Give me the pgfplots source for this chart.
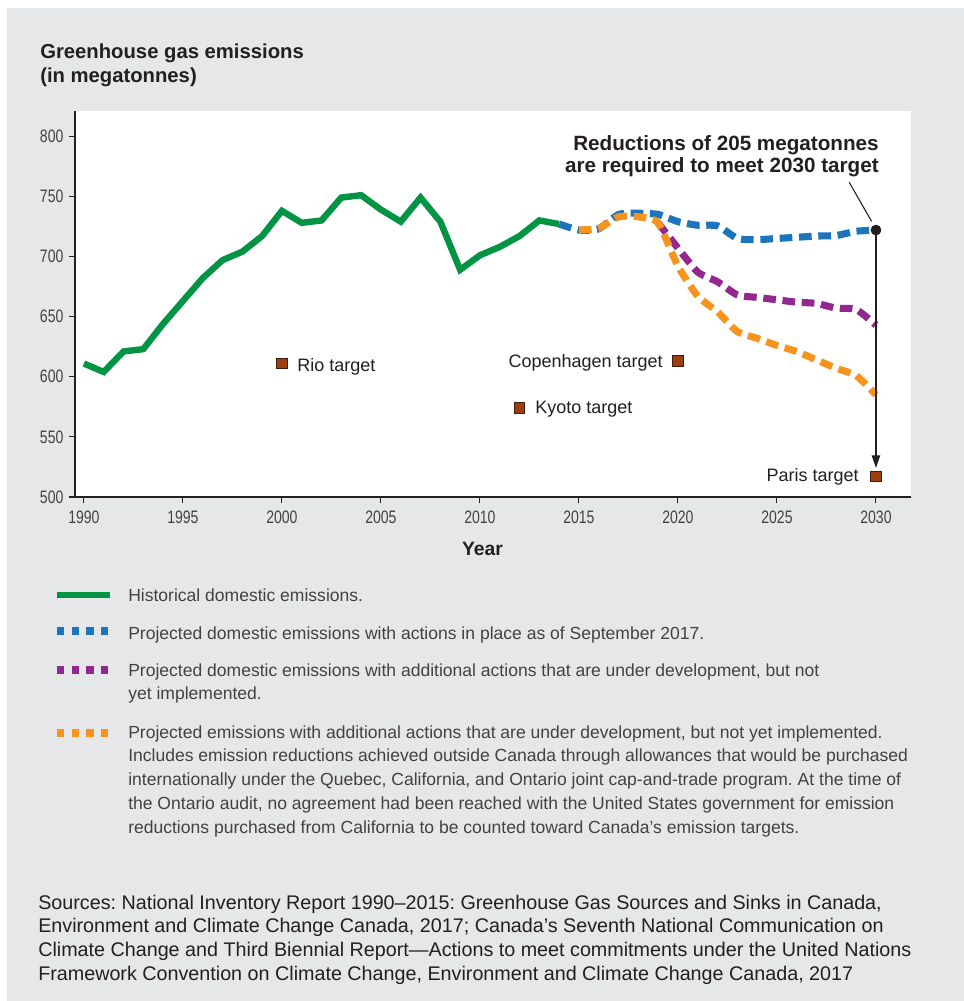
\documentclass[border=0pt]{standalone}
\usepackage{pgfplots}
\pgfplotsset{compat=1.18}
\usepackage{fontspec}
\setmainfont{Liberation Sans}
\newfontfamily\condfont[FakeStretch=0.78]{Liberation Sans}
\usetikzlibrary{arrows.meta}
\definecolor{bg}{HTML}{E6E7E8}
\definecolor{txt}{HTML}{231F20}
\definecolor{ggreen}{HTML}{009444}
\definecolor{gblue}{HTML}{1C75BC}
\definecolor{gpurple}{HTML}{92278F}
\definecolor{gorange}{HTML}{F7941D}
\definecolor{tfill}{HTML}{9E3E0C}
\definecolor{tdraw}{HTML}{3A1C10}
\frenchspacing
\begin{document}
\begin{tikzpicture}
\begin{scope}[x=0.75pt,y=-0.75pt]
\path[use as bounding box] (0,0) rectangle (964,1001);
\fill[white] (0,0) rectangle (964,1001);
\fill[bg] (7,8) rectangle (964,1001);
% title
\node[anchor=base west, inner sep=0pt, text=txt, font=\bfseries\fontsize{15.2}{17}\selectfont] at (40,58) {Greenhouse gas emissions};
\node[anchor=base west, inner sep=0pt, text=txt, font=\bfseries\fontsize{15.2}{17}\selectfont] at (40,82) {(in megatonnes)};
% x label
\node[anchor=base, inner sep=0pt, text=txt, font=\bfseries\fontsize{14.5}{17}\selectfont] at (482.5,555) {Year};
% legend samples
\draw[ggreen, line width=5.2pt] (57,595) -- (110,595);
\draw[gblue, line width=5.5pt, dash pattern=on 5.5pt off 5.5pt] (57,631) -- (110,631);
\draw[gpurple, line width=5.5pt, dash pattern=on 5.5pt off 5.5pt] (57,670) -- (110,670);
\draw[gorange, line width=5.5pt, dash pattern=on 5.5pt off 5.5pt] (57,733) -- (110,733);
% legend text
\begin{scope}[every node/.style={anchor=base west, inner sep=0pt, text=txt!85, font=\fontsize{13.15}{15}\selectfont}]
\node at (128,601) {Historical domestic emissions.};
\node at (128,639) {Projected domestic emissions with actions in place as of September 2017.};
\node at (128,676.5) {Projected domestic emissions with additional actions that are under development, but not};
\node at (128,699.5) {yet implemented.};
\node at (128,738) {Projected emissions with additional actions that are under development, but not yet implemented.};
\node at (128,761.5) {Includes emission reductions achieved outside Canada through allowances that would be purchased};
\node at (128,785) {internationally under the Quebec, California, and Ontario joint cap-and-trade program. At the time of};
\node at (128,809) {the Ontario audit, no agreement had been reached with the United States government for emission};
\node at (128,833) {reductions purchased from California to be counted toward Canada's emission targets.};
\end{scope}
% sources
\begin{scope}[every node/.style={anchor=base west, inner sep=0pt, text=txt, font=\fontsize{14.8}{17}\selectfont}]
\node at (38,909) {Sources: National Inventory Report 1990--2015: Greenhouse Gas Sources and Sinks in Canada,};
\node at (38,932.5) {Environment and Climate Change Canada, 2017; Canada's Seventh National Communication on};
\node at (38,956) {Climate Change and Third Biennial Report---Actions to meet commitments under the United Nations};
\node at (38,980) {Framework Convention on Climate Change, Environment and Climate Change Canada, 2017};
\end{scope}
\end{scope}
\begin{axis}[
  at={(56.25pt,-372.75pt)}, anchor=south west,
  scale only axis, width=627pt, height=289.5pt,
  xmin=1989.55, xmax=2031.77, ymin=500, ymax=821,
  axis x line*=bottom, axis y line*=left,
  axis line style={line width=1.1pt, txt},
  axis background/.style={fill=white},
  xtick={1990,1995,...,2030}, ytick={500,550,...,800},
  tick align=outside, major tick length=4.5pt,
  tick style={line width=0.8pt, txt},
  /pgf/number format/assume math mode=true,
  /pgf/number format/1000 sep={},
  ticklabel style={font=\condfont\fontsize{13.5}{15}\selectfont, text=txt!85},
  xticklabel style={inner sep=0pt, yshift=-6pt},
  yticklabel style={inner sep=0pt, xshift=-4pt},
  clip=false,
]
\addplot[gblue, line width=5.3pt, dash pattern=on 9.5pt off 5pt, smooth, tension=0.35] coordinates {
(2014,727)(2015,722)(2016,723)(2017,735)(2018,736)(2019,735)(2020,729)(2021,726)(2022,725.5)(2023,715)(2024,714)(2025,715)(2026,716)(2027,717)(2028,717.5)(2029,721)(2030,722)};
\addplot[gpurple, line width=5.3pt, dash pattern=on 9.5pt off 5pt, smooth, tension=0.35] coordinates {
(2019,728)(2020,707)(2021,687)(2022,679)(2023,668)(2024,666)(2025,664)(2026,662)(2027,661)(2028,657)(2029,656)(2030,643)};
\addplot[gorange, line width=5.3pt, dash pattern=on 9.5pt off 5pt, smooth, tension=0.35] coordinates {
(2015,722)(2016,723.5)(2017,733)(2018,733)(2019,728)(2020,692)(2021,667)(2022,654)(2023,637.5)(2024,632)(2025,626)(2026,621)(2027,614)(2028,607)(2029,601)(2030,585)};
\addplot[ggreen, line width=4.8pt, line join=miter, miter limit=3] coordinates {
(1990,611)(1991,604)(1992,621)(1993,623)(1994,644)(1995,663)(1996,682)(1997,697)(1998,704)(1999,717)(2000,738)(2001,728)(2002,730)(2003,749)(2004,751)(2005,739)(2006,729)(2007,749)(2008,729)(2009,689)(2010,701)(2011,708)(2012,717)(2013,730)(2014,727)};
\draw[txt, line width=1.6pt, -{Triangle[length=9.5pt,width=6pt]}] (axis cs:2030,722) -- (axis cs:2030,524);
\draw[txt, line width=0.8pt] (axis cs:2028.65,761.7) -- (axis cs:2029.78,729.2);
\addplot[only marks, mark=*, mark size=3.8pt, txt] coordinates {(2030,722)};
\addplot[only marks, mark=square*, mark size=4pt, mark options={fill=tfill, draw=tdraw, line width=0.8pt}] coordinates {(2000,611)(2012,574)(2020,613)(2030,517)};
\end{axis}
\begin{scope}[x=0.75pt,y=-0.75pt]
% annotation
\node[anchor=base east, inner sep=0pt, text=txt, font=\bfseries\fontsize{15.5}{18}\selectfont] at (879,150) {Reductions of 205 megatonnes};
\node[anchor=base east, inner sep=0pt, text=txt, font=\bfseries\fontsize{15.5}{18}\selectfont] at (879,172) {are required to meet 2030 target};
% target labels
\node[anchor=base west, inner sep=0pt, text=txt, font=\fontsize{13.5}{16}\selectfont] at (297,371.7) {Rio target};
\node[anchor=base east, inner sep=0pt, text=txt, font=\fontsize{13.5}{16}\selectfont] at (663,367.7) {Copenhagen target};
\node[anchor=base west, inner sep=0pt, text=txt, font=\fontsize{13.5}{16}\selectfont] at (535,413.3) {Kyoto target};
\node[anchor=base east, inner sep=0pt, text=txt, font=\fontsize{13.5}{16}\selectfont] at (859,481.7) {Paris target};
\end{scope}
\end{tikzpicture}
\end{document}
